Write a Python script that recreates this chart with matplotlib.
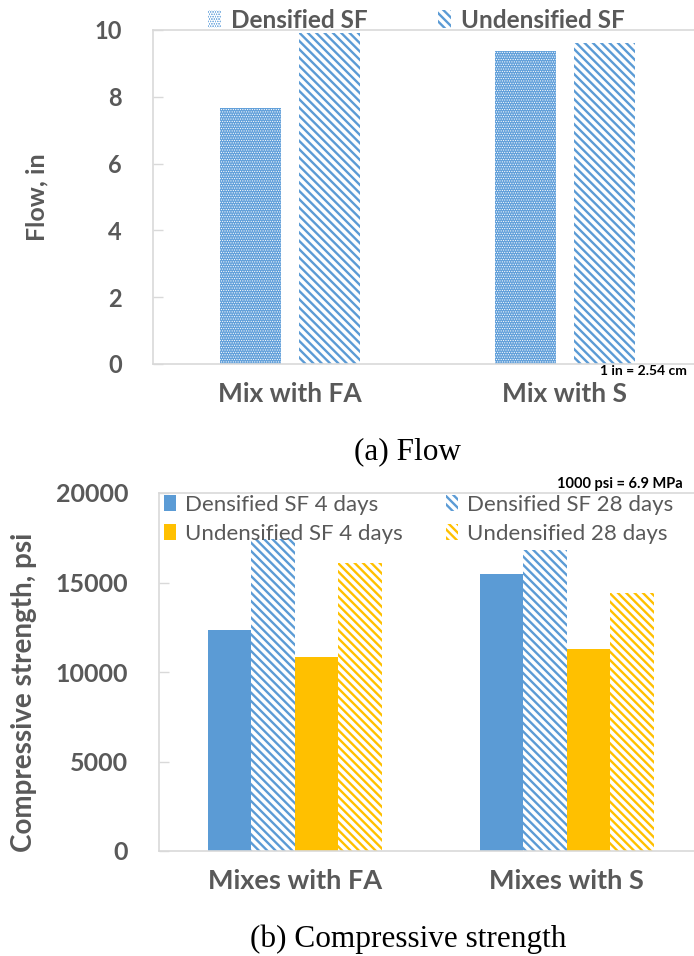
import matplotlib
matplotlib.use('Agg')
import matplotlib.pyplot as plt
from matplotlib.patches import Patch
import numpy as np

# ---------------- data ----------------
flow_categories = ['Mix with FA', 'Mix with S']
flow_series = ['Densified SF', 'Undensified SF']
flow_densified = [7.66, 9.37]
flow_undensified = [9.92, 9.62]
flow_yticks = [0, 2, 4, 6, 8, 10]

cs_categories = ['Mixes with FA', 'Mixes with S']
cs_series = ['Densified SF 4 days', 'Densified SF 28 days',
             'Undensified SF 4 days', 'Undensified 28 days']
cs_dens_4 = [12350, 15480]
cs_dens_28 = [17410, 16820]
cs_undens_4 = [10820, 11270]
cs_undens_28 = [16070, 14400]
cs_yticks = [0, 5000, 10000, 15000, 20000]

# ---------------- style ----------------
BLUE = '#5b9bd5'
YELLOW = '#ffc000'
GRAY = '#595959'
SPINE = '#d9d9d9'
FONT = ['Lato', 'DejaVu Sans']
SERIF = ['Liberation Serif', 'DejaVu Serif']
HATCH = '\\\\\\\\'
plt.rcParams['font.family'] = FONT
plt.rcParams['hatch.linewidth'] = 1.7

fig = plt.figure(figsize=(6.94, 9.56), dpi=100)

def style_axes(ax, yfs, xfs):
    for s in ax.spines.values():
        s.set_color(SPINE)
        s.set_linewidth(1.2)
    ax.tick_params(axis='y', direction='in', length=7, width=1, color=SPINE,
                   labelsize=yfs, labelcolor=GRAY, pad=22)
    ax.tick_params(axis='x', length=0, labelsize=xfs, labelcolor=GRAY, pad=13)
    for lab in ax.get_yticklabels() + ax.get_xticklabels():
        lab.set_fontweight('bold')

# ---------------- (a) Flow ----------------
ax1 = fig.add_axes([152.5 / 694, 1 - 364 / 956, 550 / 694, 334 / 956])
x1 = np.arange(len(flow_categories))
w1 = 0.222
off1 = 0.142
with plt.rc_context({'hatch.linewidth': 0.5}):
    ax1.bar(x1 - off1, flow_densified, w1, color='#62a0da', edgecolor='white',
            linewidth=0, hatch='.......')
ax1.bar(x1 + off1, flow_undensified, w1, color='white', edgecolor=BLUE,
        linewidth=0, hatch=HATCH)
ax1.set_xlim(-0.5, 1.5)
ax1.set_ylim(0, 10)
ax1.set_yticks(flow_yticks)
ax1.set_xticks(x1)
ax1.set_xticklabels(flow_categories)
style_axes(ax1, 17, 19)
ax1.set_ylabel('Flow, in', fontsize=18, fontweight='bold', color=GRAY)
ax1.yaxis.set_label_coords((48 - 152.5) / 550, 0.5)

with plt.rc_context({'hatch.linewidth': 0.5}):
    h_d = Patch(facecolor='#62a0da', edgecolor='white', linewidth=0, hatch='.......')
h_u = Patch(facecolor='white', edgecolor=BLUE, linewidth=0, hatch=HATCH)
leg1 = ax1.legend([h_d, h_u], flow_series, ncol=2, frameon=False,
                  loc='center left', bbox_to_anchor=(55 / 550, 1 + 10 / 334),
                  prop={'family': FONT, 'weight': 'bold', 'size': 17.5},
                  handlelength=0.55, handleheight=0.7, handletextpad=0.4,
                  columnspacing=2.9, borderpad=0, borderaxespad=0)
for t in leg1.get_texts():
    t.set_color(GRAY)

fig.text(600 / 694, 1 - 371 / 956, '1 in = 2.54 cm', fontsize=10, fontweight='bold',
         color='black', ha='left', va='center')
fig.text(408 / 694, 1 - 452 / 956, '(a) Flow', fontsize=22.5,
         family=SERIF, ha='center', va='center')

# ---------------- (b) Compressive strength ----------------
ax2 = fig.add_axes([158.7 / 694, 1 - 851 / 956, 544 / 694, 358 / 956])
x2 = np.arange(len(cs_categories))
w2 = 0.16
ax2.bar(x2 - 1.5 * w2, cs_dens_4, w2, color=BLUE, linewidth=0)
ax2.bar(x2 - 0.5 * w2, cs_dens_28, w2, color='white', edgecolor=BLUE,
        linewidth=0, hatch=HATCH)
ax2.bar(x2 + 0.5 * w2, cs_undens_4, w2, color=YELLOW, linewidth=0)
ax2.bar(x2 + 1.5 * w2, cs_undens_28, w2, color='white', edgecolor=YELLOW,
        linewidth=0, hatch=HATCH)
ax2.set_xlim(-0.5, 1.5)
ax2.set_ylim(0, 20000)
ax2.set_yticks(cs_yticks)
ax2.set_xticks(x2)
ax2.set_xticklabels(cs_categories)
style_axes(ax2, 18, 19.5)
ax2.set_ylabel('Compressive strength, psi', fontsize=20, fontweight='bold',
               color=GRAY)
ax2.yaxis.set_label_coords((37 - 158.7) / 544, 0.444)

handles = [Patch(facecolor=BLUE, linewidth=0),
           Patch(facecolor=YELLOW, linewidth=0),
           Patch(facecolor='white', edgecolor=BLUE, linewidth=0, hatch=HATCH),
           Patch(facecolor='white', edgecolor=YELLOW, linewidth=0, hatch=HATCH)]
labels = [cs_series[0], cs_series[2], cs_series[1], cs_series[3]]
leg2 = ax2.legend(handles, labels, ncol=2, frameon=False, loc='upper left',
                  bbox_to_anchor=(5 / 544, 1 - 2 / 358),
                  prop={'family': FONT, 'size': 16},
                  handlelength=0.55, handleheight=0.7, handletextpad=0.4,
                  columnspacing=1.95, labelspacing=0.4, borderpad=0, borderaxespad=0)
for t in leg2.get_texts():
    t.set_color(GRAY)

fig.text(557 / 694, 1 - 484 / 956, '1000 psi = 6.9 MPa', fontsize=10.5, fontweight='bold',
         color='black', ha='left', va='center')
fig.text(408 / 694, 1 - 939 / 956, '(b) Compressive strength', fontsize=22.5,
         family=SERIF, ha='center', va='center')

fig.savefig('out.png', dpi=100)
